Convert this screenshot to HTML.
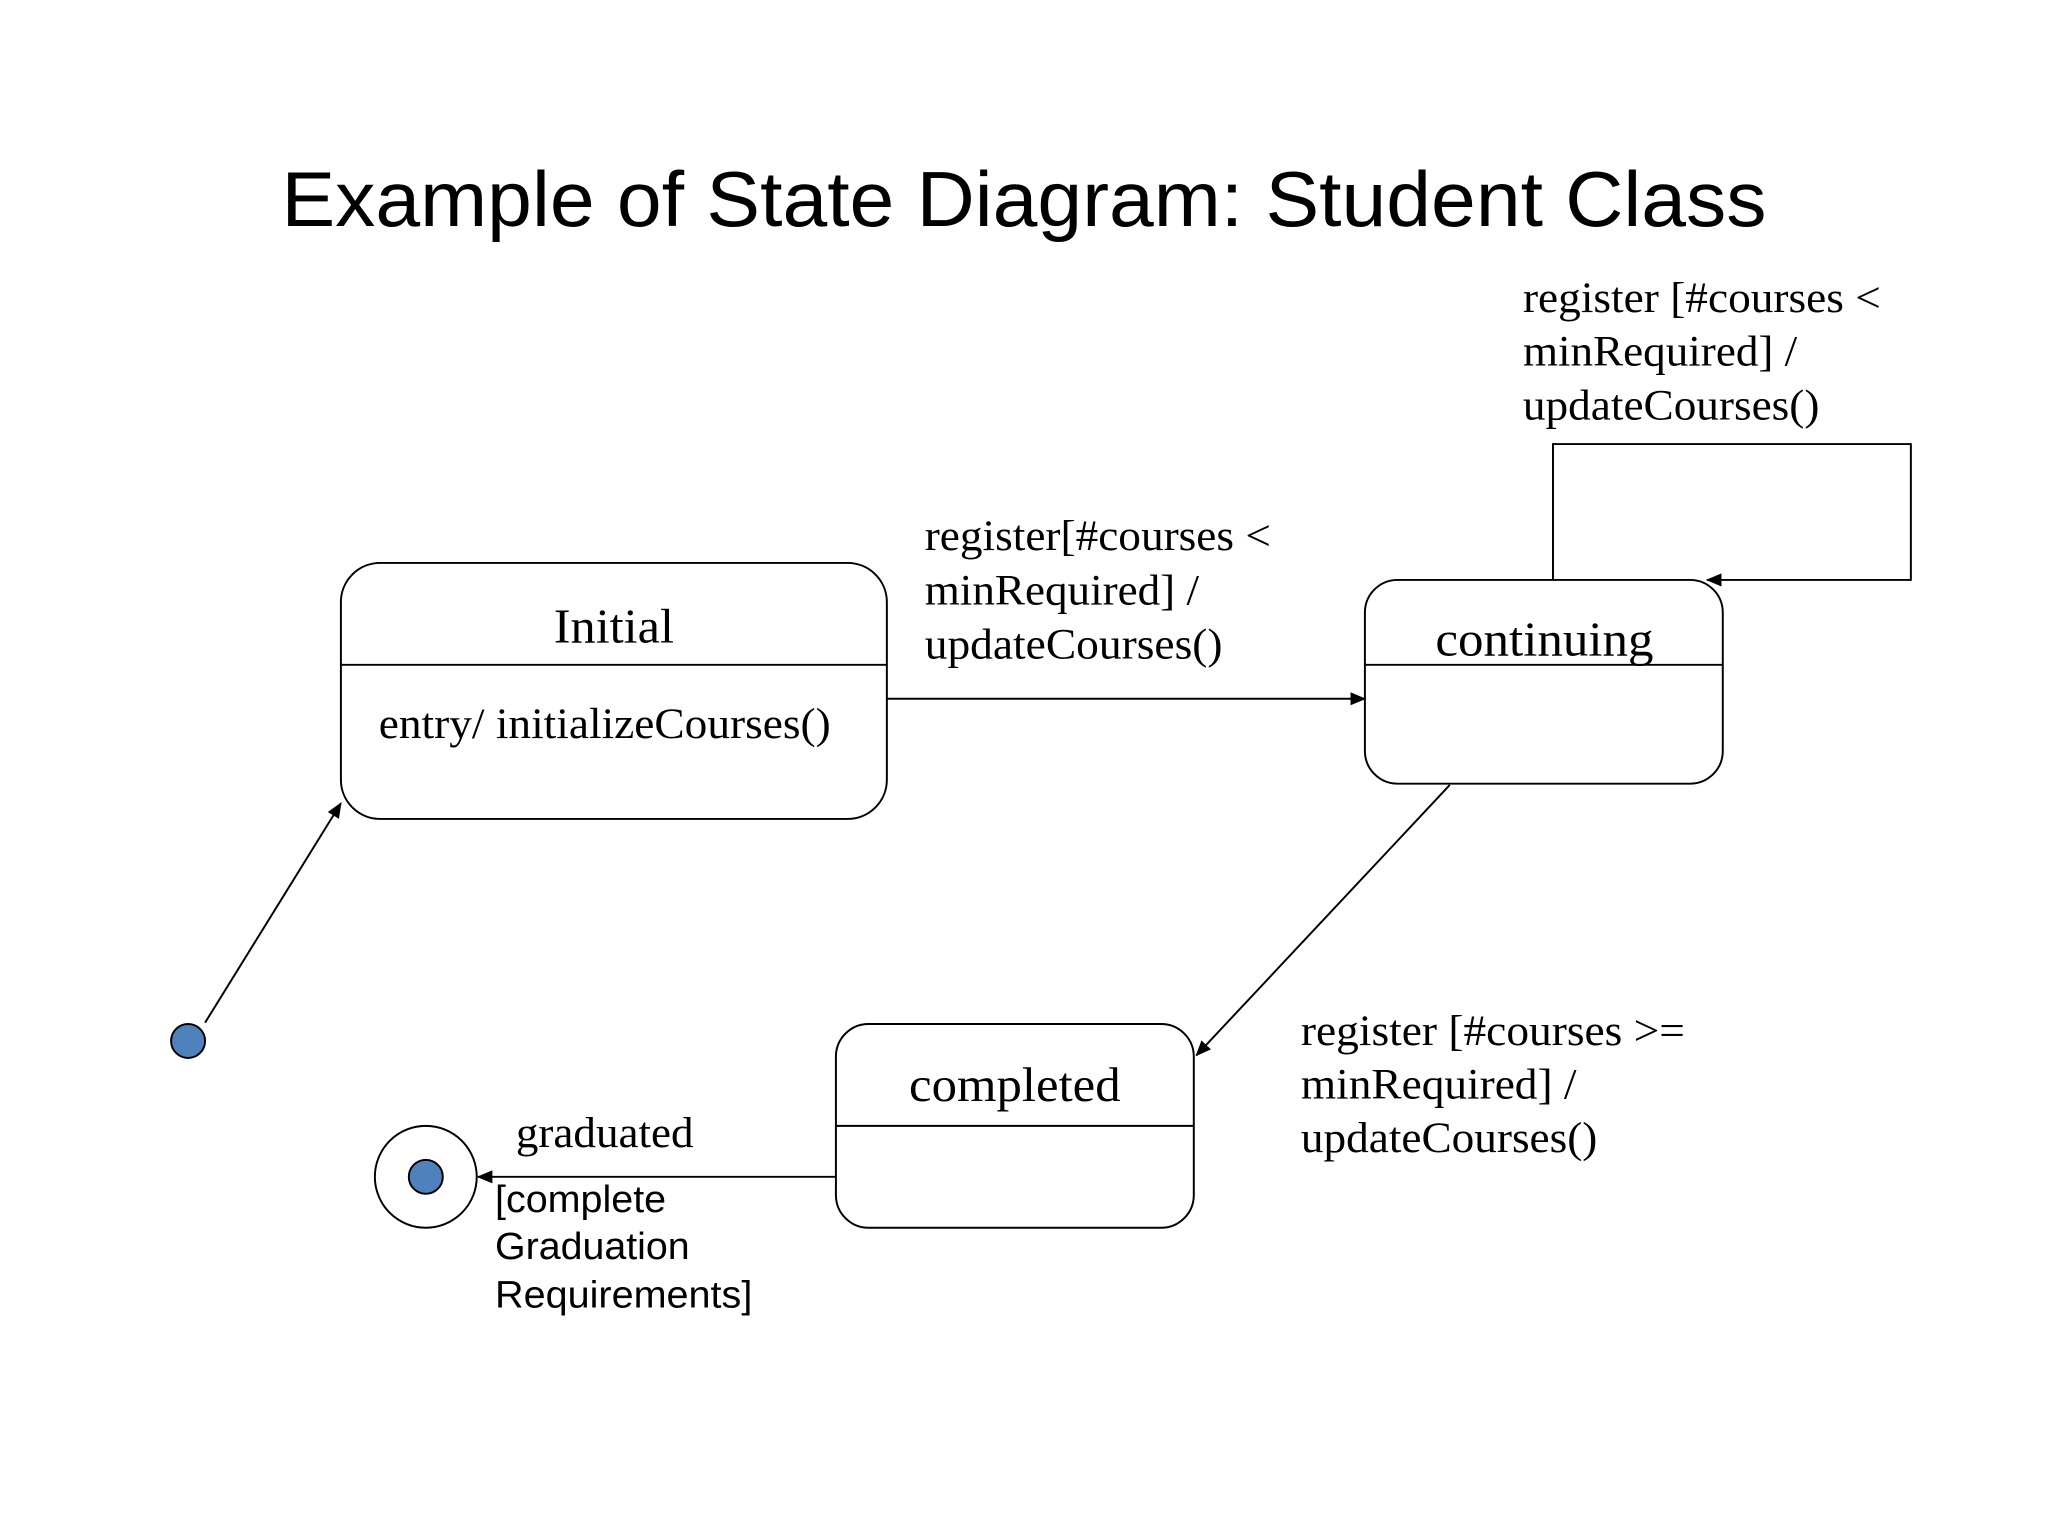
<!DOCTYPE html>
<html><head><meta charset="utf-8"><style>
html,body{margin:0;padding:0;background:#fff;}
svg{display:block;}
.s{font-family:"Liberation Serif",serif;fill:#000;}
.a{font-family:"Liberation Sans",sans-serif;fill:#000;}
</style></head><body>
<svg width="2048" height="1536" viewBox="0 0 1568 1176" xmlns="http://www.w3.org/2000/svg">
<defs>
<marker id="ah" markerWidth="12" markerHeight="10" refX="11" refY="5" orient="auto" markerUnits="userSpaceOnUse">
<path d="M0,0 L12,5 L0,10 z" fill="#000"/>
</marker>
</defs>
<rect width="1568" height="1176" fill="#fff"/>
<text x="784" y="173" text-anchor="middle" class="a" font-size="60" textLength="1137" lengthAdjust="spacingAndGlyphs">Example of State Diagram: Student Class</text>

<!-- Initial -->
<rect x="261" y="431" width="418" height="196" rx="30" fill="#fff" stroke="#000" stroke-width="1.5"/>
<line x1="261" y1="509" x2="679" y2="509" stroke="#000" stroke-width="1.5"/>
<text x="424" y="492" class="s" font-size="37" textLength="92" lengthAdjust="spacingAndGlyphs">Initial</text>
<text x="290" y="565" class="s" font-size="33" textLength="346" lengthAdjust="spacingAndGlyphs">entry/ initializeCourses()</text>

<!-- continuing -->
<rect x="1045" y="444" width="274" height="156" rx="25" fill="#fff" stroke="#000" stroke-width="1.5"/>
<line x1="1045" y1="509" x2="1319" y2="509" stroke="#000" stroke-width="1.5"/>
<text x="1099" y="502" class="s" font-size="37" textLength="167" lengthAdjust="spacingAndGlyphs">continuing</text>

<!-- completed -->
<rect x="640" y="784" width="274" height="156" rx="25" fill="#fff" stroke="#000" stroke-width="1.5"/>
<line x1="640" y1="862" x2="914" y2="862" stroke="#000" stroke-width="1.5"/>
<text x="696" y="843" class="s" font-size="37" textLength="162" lengthAdjust="spacingAndGlyphs">completed</text>

<!-- arrows -->
<line x1="679" y1="535" x2="1045" y2="535" stroke="#000" stroke-width="1.5" marker-end="url(#ah)"/>
<polyline points="1189,444 1189,340 1463,340 1463,444 1307,444" fill="none" stroke="#000" stroke-width="1.5" marker-end="url(#ah)"/>
<line x1="1110" y1="601" x2="916" y2="808" stroke="#000" stroke-width="1.5" marker-end="url(#ah)"/>
<line x1="157" y1="783" x2="261" y2="615" stroke="#000" stroke-width="1.5" marker-end="url(#ah)"/>
<line x1="640" y1="901" x2="366" y2="901" stroke="#000" stroke-width="1.5" marker-end="url(#ah)"/>

<!-- pseudo states -->
<circle cx="144" cy="797" r="13" fill="#4f81bd" stroke="#000" stroke-width="1.5"/>
<circle cx="326" cy="901" r="39" fill="#fff" stroke="#000" stroke-width="1.5"/>
<circle cx="326" cy="901" r="13" fill="#4f81bd" stroke="#000" stroke-width="1.5"/>

<!-- labels -->
<text class="s" font-size="33">
<tspan x="708" y="421" textLength="265" lengthAdjust="spacingAndGlyphs">register[#courses &lt;</tspan>
<tspan x="708" y="463" textLength="210" lengthAdjust="spacingAndGlyphs">minRequired] /</tspan>
<tspan x="708" y="504" textLength="228" lengthAdjust="spacingAndGlyphs">updateCourses()</tspan>
</text>
<text class="s" font-size="33">
<tspan x="1166" y="239" textLength="274" lengthAdjust="spacingAndGlyphs">register [#courses &lt;</tspan>
<tspan x="1166" y="280" textLength="210" lengthAdjust="spacingAndGlyphs">minRequired] /</tspan>
<tspan x="1166" y="321" textLength="227" lengthAdjust="spacingAndGlyphs">updateCourses()</tspan>
</text>
<text class="s" font-size="33">
<tspan x="996" y="800" textLength="294" lengthAdjust="spacingAndGlyphs">register [#courses &gt;=</tspan>
<tspan x="996" y="841" textLength="211" lengthAdjust="spacingAndGlyphs">minRequired] /</tspan>
<tspan x="996" y="882" textLength="227" lengthAdjust="spacingAndGlyphs">updateCourses()</tspan>
</text>
<text x="395" y="878" class="s" font-size="33" textLength="136" lengthAdjust="spacingAndGlyphs">graduated</text>
<text class="a" font-size="29">
<tspan x="379" y="928" textLength="131" lengthAdjust="spacingAndGlyphs">[complete</tspan>
<tspan x="379" y="964" textLength="149" lengthAdjust="spacingAndGlyphs">Graduation</tspan>
<tspan x="379" y="1001" textLength="197" lengthAdjust="spacingAndGlyphs">Requirements]</tspan>
</text>
</svg>
</body></html>
